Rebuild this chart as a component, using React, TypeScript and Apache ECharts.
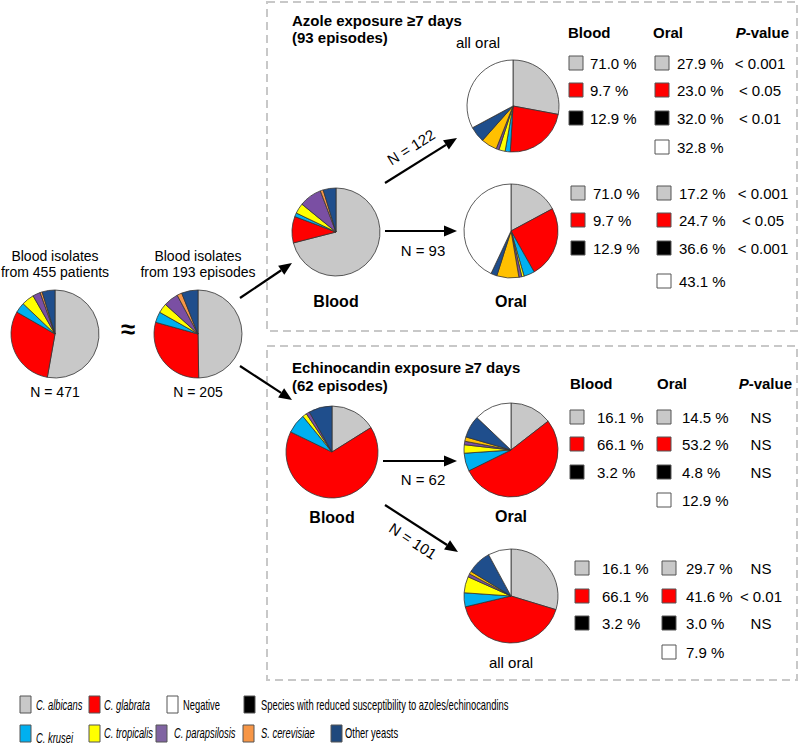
import React, { useEffect, useRef } from "react";
import * as echarts from "echarts";

// Slice order (clockwise from 12 o'clock)
const species = ["C. albicans", "C. glabrata", "C. krusei", "C. tropicalis", "C. parapsilosis", "S. cerevisiae", "Other yeasts", "Negative"];

// Pie values (%) in the order of `species`
const patients455 = [52.8, 30.5, 3.8, 4.6, 2.8, 0.8, 4.7, 0];
const episodes193 = [49.5, 29.4, 3.9, 3.5, 5.4, 1.8, 6.0, 0];
const azoleBlood = [71.0, 9.7, 1.4, 3.8, 8.3, 1.1, 4.7, 0];
const azoleAllOral = [27.9, 23.0, 1.8, 2.2, 1.0, 5.6, 5.6, 32.8];
const azoleOral = [17.2, 24.7, 3.7, 0.8, 1.0, 7.6, 2.1, 43.1];
const echinoBlood = [16.1, 66.1, 6.9, 1.5, 1.2, 0, 8.2, 0];
const echinoOral = [14.5, 53.2, 6.2, 2.9, 1.2, 1.5, 7.6, 12.9];
const echinoAllOral = [29.7, 41.6, 4.8, 5.6, 1.1, 1.0, 8.3, 7.9];

// Table values
const azoleBloodPct = ["71.0 %", "9.7 %", "12.9 %"];
const azoleAllOralPct = ["27.9 %", "23.0 %", "32.0 %", "32.8 %"];
const azoleAllOralP = ["< 0.001", "< 0.05", "< 0.01"];
const azoleOralPct = ["17.2 %", "24.7 %", "36.6 %", "43.1 %"];
const azoleOralP = ["< 0.001", "< 0.05", "< 0.001"];
const echinoBloodPct = ["16.1 %", "66.1 %", "3.2 %"];
const echinoOralPct = ["14.5 %", "53.2 %", "4.8 %", "12.9 %"];
const echinoOralP = ["NS", "NS", "NS"];
const echinoAllOralPct = ["29.7 %", "41.6 %", "3.0 %", "7.9 %"];
const echinoAllOralP = ["NS", "< 0.01", "NS"];

const rowColors = ["#C8C8C8", "#FF0000", "#000000", "#FFFFFF"];
const pieColorsOral = ["#C8C8C8", "#FF0000", "#00B0F0", "#FFFF00", "#7A4FA3", "#FFC000", "#1F4E8C", "#FFFFFF"];
const pieColorsBlood = ["#C8C8C8", "#FF0000", "#00B0F0", "#FFFF00", "#7A4FA3", "#F79646", "#1F4E8C", "#FFFFFF"];

const legendRow1 = [
  { name: "C. albicans", color: "#C8C8C8", italic: true },
  { name: "C. glabrata", color: "#FF0000", italic: true },
  { name: "Negative", color: "#FFFFFF", italic: false },
  { name: "Species with reduced susceptibility to azoles/echinocandins", color: "#000000", italic: false },
];
const legendRow2 = [
  { name: "C. krusei", color: "#00B0F0", italic: true },
  { name: "C. tropicalis", color: "#FFFF00", italic: true },
  { name: "C. parapsilosis", color: "#8064A2", italic: true },
  { name: "S. cerevisiae", color: "#F79646", italic: true },
  { name: "Other yeasts", color: "#1F497D", italic: false },
];

const FONT = "'Liberation Sans', Arial, sans-serif";

function pie(values: number[], cx: number, cy: number, r: number, colors: string[]) {
  return {
    type: "pie",
    center: [cx, cy],
    radius: r,
    startAngle: 90,
    clockwise: true,
    silent: true,
    label: { show: false },
    labelLine: { show: false },
    itemStyle: { borderColor: "#333", borderWidth: 0.8 },
    data: values
      .map((v, i) => ({ value: v, name: species[i], itemStyle: { color: colors[i] } }))
      .filter((d) => d.value > 0),
  };
}

function txt(text: string, x: number, y: number, size: number, opts: any = {}) {
  return {
    type: "text",
    x,
    y,
    rotation: opts.rotation || 0,
    scaleX: opts.scaleX || 1,
    style: {
      text,
      fontSize: size,
      fontFamily: FONT,
      fontWeight: opts.bold ? "bold" : "normal",
      fontStyle: opts.italic ? "italic" : "normal",
      fill: "#000",
      textAlign: opts.align || "left",
      textVerticalAlign: "middle",
      align: opts.align || "left",
      verticalAlign: "middle",
      rich: opts.rich,
    },
  };
}

function arrow(x1: number, y1: number, x2: number, y2: number) {
  const a = Math.atan2(y2 - y1, x2 - x1);
  const L = 13, W = 5.5;
  const bx = x2 - L * Math.cos(a), by = y2 - L * Math.sin(a);
  const px = -Math.sin(a) * W, py = Math.cos(a) * W;
  return [
    { type: "line", shape: { x1, y1, x2: bx, y2: by }, style: { stroke: "#000", lineWidth: 2.2 } },
    { type: "polygon", shape: { points: [[x2, y2], [bx + px, by + py], [bx - px, by - py]] }, style: { fill: "#000" } },
  ];
}

function square(x: number, y: number, color: string) {
  return { type: "rect", shape: { x, y: y - 7, width: 14, height: 14 }, style: { fill: color, stroke: "#555", lineWidth: 1 } };
}

function column(x: number, tx: number, ys: number[], vals: string[]) {
  const out: any[] = [];
  vals.forEach((v, i) => {
    out.push(square(x, ys[i], rowColors[i]));
    out.push(txt(v, tx, ys[i], 15));
  });
  return out;
}

function pcol(cx: number, ys: number[], vals: string[]) {
  return vals.map((v, i) => txt(v, cx, ys[i], 15, { align: "center" }));
}

function header(y: number, bx: number, ox: number, px: number) {
  return [
    txt("Blood", bx, y, 15, { bold: true }),
    txt("Oral", ox, y, 15, { bold: true }),
    txt("{i|P}{b|-value}", px, y, 15, {
      align: "right",
      rich: {
        i: { fontSize: 15, fontFamily: FONT, fontWeight: "bold", fontStyle: "italic" },
        b: { fontSize: 15, fontFamily: FONT, fontWeight: "bold" },
      },
    }),
  ];
}

export default function App() {
  const ref = useRef<HTMLDivElement>(null);
  useEffect(() => {
    if (!ref.current) return;
    const chart = echarts.init(ref.current, null, { renderer: "svg" });

    const g: any[] = [];
    // dashed boxes
    g.push({ type: "rect", shape: { x: 267, y: 2, width: 530, height: 329 }, style: { fill: "none", stroke: "#C8C8C8", lineWidth: 2, lineDash: [8, 5] } });
    g.push({ type: "rect", shape: { x: 267, y: 346, width: 530, height: 334 }, style: { fill: "none", stroke: "#C8C8C8", lineWidth: 2, lineDash: [8, 5] } });

    // left labels
    g.push(txt("Blood isolates", 55, 256, 14, { align: "center" }));
    g.push(txt("from 455 patients", 55, 272, 14, { align: "center" }));
    g.push(txt("Blood isolates", 198, 256, 14, { align: "center" }));
    g.push(txt("from 193 episodes", 198, 272, 14, { align: "center" }));
    g.push(txt("N = 471", 55, 392, 14, { align: "center" }));
    g.push(txt("N = 205", 198, 392, 14, { align: "center" }));
    g.push(txt("≈", 128, 329, 26, { align: "center", bold: true }));

    // arrows
    g.push(...arrow(240, 298, 292, 263));
    g.push(...arrow(240, 366, 292, 400));
    g.push(...arrow(385, 183, 457, 138));
    g.push(...arrow(385, 231, 457, 231));
    g.push(...arrow(383, 461, 457, 461));
    g.push(...arrow(385, 505, 458, 552));
    g.push(txt("N = 122", 411, 147, 15, { align: "center", rotation: 0.56 }));
    g.push(txt("N = 93", 423, 250, 15, { align: "center" }));
    g.push(txt("N = 62", 423, 479, 15, { align: "center" }));
    g.push(txt("N = 101", 413, 541, 15, { align: "center", rotation: -0.58 }));

    // top box titles
    g.push(txt("Azole exposure ≥7 days", 292, 20, 15, { bold: true }));
    g.push(txt("(93 episodes)", 292, 37, 15, { bold: true }));
    g.push(txt("all oral", 478, 42, 15, { align: "center" }));
    g.push(txt("Blood", 336, 301, 16, { align: "center", bold: true }));
    g.push(txt("Oral", 511, 301, 16, { align: "center", bold: true }));

    // bottom box titles
    g.push(txt("Echinocandin exposure ≥7 days", 292, 367, 15, { bold: true }));
    g.push(txt("(62 episodes)", 292, 385, 15, { bold: true }));
    g.push(txt("Blood", 332, 517, 16, { align: "center", bold: true }));
    g.push(txt("Oral", 511, 516, 16, { align: "center", bold: true }));
    g.push(txt("all oral", 511, 662, 15, { align: "center" }));

    // top table
    g.push(...header(32, 568, 653, 789));
    const t1 = [63, 90, 118, 147];
    g.push(...column(569, 590, t1, azoleBloodPct));
    g.push(...column(655, 677, t1, azoleAllOralPct));
    g.push(...pcol(760, t1, azoleAllOralP));
    const t2 = [193, 220, 248, 281];
    g.push(...column(571, 593, t2, azoleBloodPct));
    g.push(...column(657, 679, t2, azoleOralPct));
    g.push(...pcol(763, t2, azoleOralP));

    // bottom table
    g.push(...header(383, 570, 657, 792));
    const b1 = [417, 444, 472, 500];
    g.push(...column(570, 597, b1, echinoBloodPct));
    g.push(...column(657, 682, b1, echinoOralPct));
    g.push(...pcol(761, b1, echinoOralP));
    const b2 = [568, 596, 623, 652];
    g.push(...column(575, 602, b2, echinoBloodPct));
    g.push(...column(662, 686, b2, echinoAllOralPct));
    g.push(...pcol(761, b2, echinoAllOralP));

    // legend
    const l1x = [20, 89, 167, 244];
    const l1t = [36, 104, 183, 261];
    const l2x = [20, 89, 156, 243, 331];
    const l2t = [36, 104, 174, 261, 345];
    legendRow1.forEach((it, i) => {
      g.push({ type: "rect", shape: { x: l1x[i], y: 696, width: 11, height: 17 }, style: { fill: it.color, stroke: "#555", lineWidth: 1 } });
      g.push(txt(it.name, l1t[i], 705, 14, { italic: it.italic, scaleX: 0.67 }));
    });
    legendRow2.forEach((it, i) => {
      g.push({ type: "rect", shape: { x: l2x[i], y: 725, width: 11, height: 17 }, style: { fill: it.color, stroke: "#555", lineWidth: 1 } });
      g.push(txt(it.name, l2t[i], i === 0 ? 738 : 733, 14, { italic: it.italic, scaleX: 0.67 }));
    });

    chart.setOption({
      animation: false,
      backgroundColor: "#fff",
      series: [
        pie(patients455, 55, 334, 44, pieColorsBlood),
        pie(episodes193, 198, 334, 44, pieColorsBlood),
        pie(azoleBlood, 336, 232, 44, pieColorsBlood),
        pie(azoleAllOral, 513, 106, 46, pieColorsOral),
        pie(azoleOral, 511, 231, 47, pieColorsOral),
        pie(echinoBlood, 332, 452, 46, pieColorsBlood),
        pie(echinoOral, 511, 450, 47, pieColorsOral),
        pie(echinoAllOral, 511, 596, 47, pieColorsOral),
      ],
      graphic: { elements: g },
    });
    return () => chart.dispose();
  }, []);
  return <div ref={ref} style={{ position: "fixed", left: 0, top: 0, width: 800, height: 748 }} />;
}
